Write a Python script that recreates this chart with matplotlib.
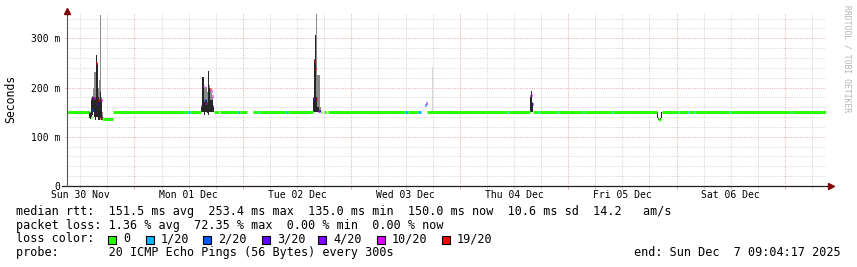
import matplotlib
matplotlib.use('Agg')
import matplotlib.pyplot as plt
import matplotlib.dates as mdates
from matplotlib.patches import Rectangle
from matplotlib.ticker import MultipleLocator, FuncFormatter
import numpy as np
import pandas as pd

nan = np.nan

# graph window
t_start = "2025-11-30 09:04:17"
t_end = "2025-12-07 09:04:17"

# median rtt (ms) and lost pings (of 20), each value holds until the next time; nan = no line
base_time = ["2025-11-30 09:04", "2025-11-30 13:57", "2025-11-30 17:03", "2025-11-30 19:09",
             "2025-12-01 11:53", "2025-12-01 12:13", "2025-12-01 14:46", "2025-12-01 17:39",
             "2025-12-01 18:39", "2025-12-01 18:59", "2025-12-01 22:58", "2025-12-01 23:25",
             "2025-12-02 00:54", "2025-12-02 02:18", "2025-12-02 03:24", "2025-12-02 03:37",
             "2025-12-02 09:37", "2025-12-02 09:57", "2025-12-02 15:36", "2025-12-02 17:22",
             "2025-12-02 17:36", "2025-12-02 17:55", "2025-12-02 18:29", "2025-12-02 18:55",
             "2025-12-03 11:59", "2025-12-03 12:39", "2025-12-03 14:52", "2025-12-03 15:19",
             "2025-12-03 16:39", "2025-12-04 10:23", "2025-12-04 10:36", "2025-12-04 15:29",
             "2025-12-04 16:09", "2025-12-04 17:15", "2025-12-04 17:28", "2025-12-04 21:41",
             "2025-12-04 21:54", "2025-12-05 03:14", "2025-12-05 03:27", "2025-12-05 09:39",
             "2025-12-05 09:52", "2025-12-05 19:44", "2025-12-05 20:51", "2025-12-06 00:17",
             "2025-12-06 00:30", "2025-12-06 02:30", "2025-12-06 02:43", "2025-12-06 03:50",
             "2025-12-06 04:03", "2025-12-06 11:35", "2025-12-06 11:48", "2025-12-07 01:20",
             "2025-12-07 01:33"]
base_ms = [151, nan, 136, 151, 151, 151, nan, 151, nan, 151, 151, 151, nan, 151, 151, 151,
           151, 151, nan, 151, nan, 151, nan, 151, 151, 151, 151, nan, 151, 151, 151, nan,
           151, 151, 151, 151, 151, 151, 151, 151, 151, nan, 151, 151, 151, 151, 151, 151,
           151, 151, 151, 151, 151]
base_loss = [0, 0, 0, 0, 1, 0, 0, 0, 0, 0, 1, 0, 0, 0, 1, 0,
             1, 0, 0, 0, 0, 0, 0, 0, 1, 0, 1, 0, 0, 1, 0, 0,
             0, 1, 0, 1, 0, 1, 0, 1, 0, 0, 0, 1, 0, 1, 0, 1,
             0, 1, 0, 1, 0]

# bursts of high rtt: start time, then one value per consolidated column
burst_start = ["2025-11-30 13:57", "2025-12-01 14:46", "2025-12-02 15:36",
               "2025-12-03 15:59", "2025-12-04 15:29", "2025-12-05 19:44"]
burst_med = [[nan, nan, 140, 155, 178, 178, nan, 250, 166, 174, nan, 138, 174, 136],
             [nan, nan, 204, 175, nan, 169, nan, nan, nan, 198, 193, 182, nan],
             [176, 254, 237, 177, nan, 153, 153, nan],
             [nan, 165, 168],
             [nan, 185, 166],
             [nan, 136, 135, 136, nan]]
burst_loss = [[0, 0, 0, 2, 10, 10, 4, 19, 3, 19, 2, 19, 10, 0],
              [0, 2, 10, 2, 10, 10, 3, 10, 19, 19, 10, 10, 3],
              [3, 19, 19, 19, 10, 10, 4, 3],
              [2, 2, 3],
              [2, 10, 3],
              [0, 0, 0, 0, 0]]
burst_lo = [[138, 136, 140, 145, 150, 140, 135, 140, 140, 135, 135, 138, 135, 135],
            [150, 150, 150, 145, 150, 150, 148, 145, 150, 150, 150, 150, 150],
            [150, 150, 150, 150, 150, 150, 150, 150],
            [150, 150, 150],
            [150, 150, 150],
            [138, 134, 134, 134, 138]]
burst_hi = [[152, 150, 178, 182, 200, 232, 232, 266, 250, 200, 215, 347, 180, 150],
            [165, 222, 222, 200, 201, 201, 190, 234, 205, 195, 189, 180, 165],
            [180, 258, 306, 350, 225, 225, 225, 160],
            [165, 168, 170],
            [185, 193, 170],
            [151, 138, 137, 138, 151]]
burst_core = [[151, 148, 175, 180, 180, 180, 178, 266, 248, 180, 175, 190, 175, 140],
              [160, 222, 222, 170, 175, 175, 170, 234, 200, 175, 175, 175, 160],
              [178, 256, 306, 180, 160, 160, 155, 155],
              [163, 166, 168],
              [180, 193, 168],
              [151, 138, 137, 138, 151]]

# single faint smoke spike
faint_time = ["2025-12-03 17:58"]
faint_lo = [151]
faint_hi = [241]

loss_steps = [0, 1, 2, 3, 4, 10, 19]
loss_colors = ['#26ff00', '#00b8ff', '#0059ff', '#5e00ff', '#7e00ff', '#dd00ff', '#ff0000']
loss_labels = ['0', '1/20', '2/20', '3/20', '4/20', '10/20', '19/20']

stats_rtt = "median rtt:  151.5 ms avg  253.4 ms max  135.0 ms min  150.0 ms now  10.6 ms sd  14.2   am/s"
stats_loss = "packet loss: 1.36 % avg  72.35 % max  0.00 % min  0.00 % now"
probe_text = "probe:       20 ICMP Echo Pings (56 Bytes) every 300s"
end_text = "end: Sun Dec  7 09:04:17 2025"


def loss_color(n):
    for s, c in zip(loss_steps, loss_colors):
        if n <= s:
            return c
    return loss_colors[-1]


plt.rcParams['font.family'] = 'DejaVu Sans Mono'

W, H = 857, 267
fig = plt.figure(figsize=(W / 100, H / 100), dpi=100)
fig.patch.set_facecolor('white')
ax = fig.add_axes([67 / W, (H - 186) / H, (826 - 67) / W, (186 - 12.7) / H])

x0 = mdates.date2num(pd.Timestamp(t_start))
x1 = mdates.date2num(pd.Timestamp(t_end))
col = 13.3 / 1440  # one pixel column of the rrd graph, in days
band = 2.1

# smoke
for b in range(len(burst_start)):
    t0 = mdates.date2num(pd.Timestamp(burst_start[b]))
    xs = t0 + col * np.arange(len(burst_med[b])) + 0.1 * col
    lo = np.array(burst_lo[b], float)
    ax.bar(xs, np.array(burst_hi[b]) - lo, bottom=lo, width=0.8 * col, align='edge',
           color='#8a8a8a', linewidth=0, zorder=2)
    ax.bar(xs, np.array(burst_core[b]) - lo, bottom=lo, width=0.8 * col, align='edge',
           color='#262626', linewidth=0, zorder=3)
fx = mdates.date2num(pd.to_datetime(faint_time))
ax.bar(fx, np.array(faint_hi) - np.array(faint_lo), bottom=faint_lo, width=col,
       align='edge', color='#d4d4d4', linewidth=0, zorder=2)

# median band
bt = mdates.date2num(pd.to_datetime(base_time))
be = np.append(bt[1:], x1)
for s, e, m, l in zip(bt, be, base_ms, base_loss):
    if not np.isnan(m):
        ax.hlines(m, s, e, colors=loss_color(l), linewidth=band, capstyle='butt', zorder=4)
for b in range(len(burst_start)):
    t0 = mdates.date2num(pd.Timestamp(burst_start[b]))
    for i, (m, l) in enumerate(zip(burst_med[b], burst_loss[b])):
        if not np.isnan(m):
            ax.hlines(m, t0 + i * col, t0 + (i + 1) * col, colors=loss_color(l),
                      linewidth=band, capstyle='butt', zorder=4)

ax.set_xlim(x0, x1)
ax.set_ylim(0, 352)

# grid
ax.xaxis.set_major_locator(mdates.DayLocator())
ax.xaxis.set_minor_locator(mdates.HourLocator(byhour=[0, 6, 12, 18]))
ax.yaxis.set_major_locator(MultipleLocator(100))
ax.yaxis.set_minor_locator(MultipleLocator(20))
ax.grid(which='minor', color='#d2d2d2', linestyle=(0, (1, 1.4)), linewidth=0.7)
ax.grid(which='major', color='#e9aaaa', linestyle=(0, (1, 1.4)), linewidth=0.7)
ax.set_axisbelow(True)
ax.tick_params(axis='x', which='both', length=2, width=0.7, labelbottom=False)
ax.tick_params(axis='x', which='major', color='#e9aaaa')
ax.tick_params(axis='x', which='minor', color='#d2d2d2')
ax.tick_params(axis='y', which='major', length=1.5, width=0.7, color='#e9aaaa',
               labelsize=7, pad=3.5)
ax.tick_params(axis='y', which='minor', length=0)
ax.yaxis.set_major_formatter(FuncFormatter(lambda v, p: '0' if v == 0 else f'{v:.0f} m'))
for s in ax.spines.values():
    s.set_visible(False)

# day labels at noon
noons = pd.date_range("2025-11-30 12:00", "2025-12-06 12:00", freq='D')
for d in noons:
    ax.text(mdates.date2num(d), -0.025, d.strftime('%a %d %b'), transform=ax.get_xaxis_transform(),
            ha='center', va='top', fontsize=7)

# axes with arrows
ax.plot([-0.007, 1.004], [0, 0], transform=ax.transAxes, color='#1f1f1f', lw=0.9,
        clip_on=False, zorder=6)
ax.plot([0, 0], [0, 1.0], transform=ax.transAxes, color='#555555', lw=0.8,
        clip_on=False, zorder=6)
ax.plot([1.0066], [0], marker='>', ms=4.5, color='#800000', transform=ax.transAxes,
        clip_on=False, zorder=7)
ax.plot([0], [1.012], marker='^', ms=4.5, color='#800000', transform=ax.transAxes,
        clip_on=False, zorder=7)

fig.text(11 / W, 1 - 99 / H, 'Seconds', rotation=90, ha='center', va='center', fontsize=8.3)
fig.text(847 / W, 1 - 5 / H, 'RRDTOOL / TOBI OETIKER', rotation=270, ha='center', va='top',
         fontsize=5.8, color='#b4b4b4')

# legend
fs = 8.45
fig.text(16 / W, 1 - 211.5 / H, stats_rtt, ha='left', va='center', fontsize=fs)
fig.text(16 / W, 1 - 225 / H, stats_loss, ha='left', va='center', fontsize=fs)
fig.text(16 / W, 1 - 239 / H, 'loss color:', ha='left', va='center', fontsize=fs)
box_x = [108, 146, 203, 262, 318, 377, 442]
for bx, c, lab in zip(box_x, loss_colors, loss_labels):
    fig.patches.append(Rectangle((bx / W, 1 - 243.5 / H), 8 / W, 8 / H, transform=fig.transFigure,
                                 facecolor=c, edgecolor='black', linewidth=0.8))
    fig.text((bx + 15) / W, 1 - 239 / H, lab, ha='left', va='center', fontsize=fs)
fig.text(16 / W, 1 - 252.5 / H, probe_text, ha='left', va='center', fontsize=fs)
fig.text(841 / W, 1 - 252.5 / H, end_text, ha='right', va='center', fontsize=fs)

fig.savefig('out.png', dpi=100, facecolor='white')
